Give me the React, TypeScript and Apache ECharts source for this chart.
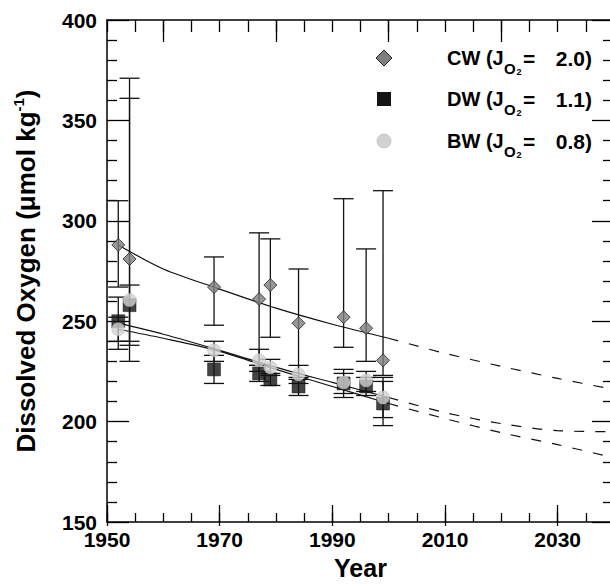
import React, { useEffect, useRef } from "react";
import * as echarts from "echarts";

// ---- data ----
const years = [1952, 1954, 1969, 1977, 1979, 1984, 1992, 1996, 1999];

const cwValues = [288, 281, 267, 261, 268, 249, 252, 246.5, 230.5];
const cwLow = [267, 230, 248, 228, 242, 222, 237, 230, 223];
const cwHigh = [310, 371, 282, 294, 291, 276, 311, 286, 315];

const dwValues = [250, 258, 226, 224, 221, 217.5, 219, 217.5, 209];
const dwLow = [236, 238, 219, 220, 218, 213, 214, 213, 198];
const dwHigh = [262, 268, 233, 228, 224, 221, 224, 222, 220];

const bwValues = [246, 260.5, 235.5, 230.5, 227, 223.5, 219.5, 220.5, 212];
const bwLow = [240, 240, 230, 225, 223, 219, 212, 215, 202];
const bwHigh = [252, 361, 240, 236, 231, 228, 226, 225, 222];

// fitted curves (solid, observed period) and projections (dashed)
const fitYears = [1952, 1960, 1970, 1980, 1990, 2000];
const cwFit = [288, 276, 266, 256.5, 248.5, 241.5];
const dwFit = [249, 243.5, 235.5, 227, 219.5, 212];
const bwFit = [246, 241.5, 235, 226, 217.5, 209];

const projYears = [2000, 2010, 2020, 2030, 2040];
const cwProj = [241.5, 234, 227.5, 221.5, 216];
const dwProj = [212, 204.5, 199, 195.5, 195];
const bwProj = [209, 201.5, 194.5, 188.5, 182];

// axes
const xLabelValues = [1950, 1970, 1990, 2010, 2030];
const xTopMajor = [1960, 1980, 2000, 2020];
const xMin = 1950;
const xMax = 2040;
const yMin = 150;
const yMax = 400;

const legendRows = [
  { name: "CW", j: "2.0" },
  { name: "DW", j: "1.1" },
  { name: "BW", j: "0.8" },
];

const FONT = "'Liberation Sans', Arial, Helvetica, sans-serif";

function errorBars(name: string, lows: number[], highs: number[]) {
  return {
    type: "custom",
    name: name + " error",
    xAxisIndex: 0,
    yAxisIndex: 0,
    z: 1,
    data: years.map((y, i) => [y, lows[i], highs[i]]),
    encode: { x: 0, y: [1, 2] },
    renderItem: (params: any, api: any) => {
      const x = api.value(0);
      const lo = api.coord([x, api.value(1)]);
      const hi = api.coord([x, api.value(2)]);
      const half = 10;
      const style = { stroke: "#111", lineWidth: 1.3, fill: "none" };
      return {
        type: "group",
        children: [
          { type: "line", shape: { x1: lo[0], y1: lo[1], x2: hi[0], y2: hi[1] }, style },
          { type: "line", shape: { x1: hi[0] - half, y1: hi[1], x2: hi[0] + half, y2: hi[1] }, style },
          { type: "line", shape: { x1: lo[0] - half, y1: lo[1], x2: lo[0] + half, y2: lo[1] }, style },
        ],
      };
    },
  };
}

function fitLine(name: string, xs: number[], ys: number[], dashed: boolean) {
  return {
    type: "line",
    name,
    xAxisIndex: 0,
    yAxisIndex: 0,
    z: 2,
    smooth: 0.3,
    showSymbol: false,
    symbol: "none",
    silent: true,
    data: xs.map((x, i) => [x, ys[i]]),
    lineStyle: { color: "#111", width: 1.2, type: dashed ? [10, 11] : "solid" },
  };
}

function scatter(name: string, vals: number[], symbol: string, size: number, itemStyle: any) {
  return {
    type: "scatter",
    name,
    xAxisIndex: 0,
    yAxisIndex: 0,
    z: 3,
    symbol,
    symbolSize: size,
    data: years.map((y, i) => [y, vals[i]]),
    itemStyle,
  };
}

const cwStyle = { color: "#7e7e7e", borderColor: "#222", borderWidth: 1 };
const dwStyle = { color: "#141414", borderColor: "#000", borderWidth: 0.5 };
const bwStyle = { color: "#d2d2d2", borderColor: "#b5b5b5", borderWidth: 0.6 };

function legendGraphics() {
  const rowY = [58, 99, 141];
  const els: any[] = [];
  const mx = 384;
  els.push({
    type: "polygon",
    shape: { points: [[mx, rowY[0] - 8], [mx + 8, rowY[0]], [mx, rowY[0] + 8], [mx - 8, rowY[0]]] },
    style: { fill: cwStyle.color, stroke: cwStyle.borderColor, lineWidth: 1 },
  });
  els.push({
    type: "rect",
    shape: { x: mx - 7, y: rowY[1] - 7, width: 14, height: 14 },
    style: { fill: dwStyle.color },
  });
  els.push({
    type: "circle",
    shape: { cx: mx, cy: rowY[2], r: 7 },
    style: { fill: bwStyle.color, stroke: bwStyle.borderColor, lineWidth: 0.6 },
  });
  legendRows.forEach((r, i) => {
    const y = rowY[i];
    const base = { fill: "#000", fontFamily: FONT, fontWeight: "bold" };
    els.push({
      type: "text",
      x: 447,
      y,
      style: { ...base, text: r.name + " (J", fontSize: 20, textAlign: "left", textVerticalAlign: "middle" },
    });
    els.push({
      type: "text",
      x: 504,
      y: y + 10,
      style: { ...base, text: "O", fontSize: 15, textAlign: "left", textVerticalAlign: "middle" },
    });
    els.push({
      type: "text",
      x: 516.5,
      y: y + 14,
      style: { ...base, text: "2", fontSize: 9, textAlign: "left", textVerticalAlign: "middle" },
    });
    els.push({
      type: "text",
      x: 523,
      y,
      style: { ...base, text: "=", fontSize: 21, textAlign: "left", textVerticalAlign: "middle" },
    });
    els.push({
      type: "text",
      x: 592,
      y,
      style: { ...base, text: r.j + ")", fontSize: 21, textAlign: "right", textVerticalAlign: "middle" },
    });
  });
  return els;
}

export default function App() {
  const ref = useRef<HTMLDivElement>(null);

  useEffect(() => {
    if (!ref.current) return;
    const chart = echarts.init(ref.current, null, { renderer: "svg" });
    const gridRect = { left: 107, top: 20, width: 507, height: 506 };
    const lineStyle = { color: "#000", width: 1.5 };
    const tickLine = { color: "#000", width: 1.3 };

    const option: any = {
      animation: false,
      backgroundColor: "#fff",
      grid: [
        { ...gridRect, containLabel: false },
        { ...gridRect, containLabel: false },
      ],
      xAxis: [
        {
          gridIndex: 0,
          type: "value",
          position: "bottom",
          min: xMin,
          max: xMax,
          interval: 5,
          axisLine: { show: true, onZero: false, lineStyle },
          axisTick: { show: true, inside: true, length: 9, lineStyle: tickLine },
          axisLabel: {
            show: true,
            customValues: xLabelValues,
            formatter: (v: number) => String(v),
            fontSize: 21,
            lineHeight: 18,
            fontWeight: "bold",
            fontFamily: FONT,
            color: "#000",
            margin: 8.5,
          },
          splitLine: { show: false },
          name: "Year",
          nameLocation: "middle",
          nameGap: 33,
          nameTextStyle: { fontSize: 25, fontWeight: "bold", fontFamily: FONT, color: "#000" },
        },
        {
          gridIndex: 0,
          type: "value",
          position: "top",
          min: xMin,
          max: xMax,
          interval: 5,
          axisLine: { show: true, onZero: false, lineStyle },
          axisTick: { show: true, inside: true, length: 12, lineStyle: tickLine },
          axisLabel: { show: false },
          splitLine: { show: false },
        },
        {
          gridIndex: 1,
          type: "value",
          position: "bottom",
          min: xMin,
          max: xMax,
          interval: 5,
          axisLine: { show: false },
          axisTick: { show: true, inside: true, length: 21, customValues: xLabelValues, lineStyle: tickLine },
          axisLabel: { show: false },
          splitLine: { show: false },
        },
        {
          gridIndex: 1,
          type: "value",
          position: "top",
          min: xMin,
          max: xMax,
          interval: 5,
          axisLine: { show: false },
          axisTick: { show: true, inside: true, length: 22, customValues: xTopMajor, lineStyle: tickLine },
          axisLabel: { show: false },
          splitLine: { show: false },
        },
      ],
      yAxis: [
        {
          gridIndex: 0,
          type: "value",
          position: "left",
          min: yMin,
          max: yMax,
          interval: 50,
          axisLine: { show: true, onZero: false, lineStyle },
          axisTick: { show: true, inside: true, length: 22, lineStyle: tickLine },
          minorTick: { show: true, splitNumber: 5, length: 10, lineStyle: tickLine },
          axisLabel: {
            fontSize: 21,
            lineHeight: 16,
            fontWeight: "bold",
            fontFamily: FONT,
            color: "#000",
            margin: 10,
          },
          splitLine: { show: false },
          minorSplitLine: { show: false },
          name: "{a|Dissolved Oxygen (\u03bcmol kg}{s|-1}{a|)}",
          nameLocation: "middle",
          nameGap: 66,
          nameRotate: 90,
          nameTextStyle: {
            fontSize: 26,
            fontWeight: "bold",
            fontFamily: FONT,
            color: "#000",
            rich: {
              a: { fontSize: 26, fontWeight: "bold", fontFamily: FONT, color: "#000", lineHeight: 30 },
              s: {
                fontSize: 15,
                fontWeight: "bold",
                fontFamily: FONT,
                color: "#000",
                lineHeight: 16,
                verticalAlign: "top",
              },
            },
          },
        },
        {
          gridIndex: 0,
          type: "value",
          position: "right",
          min: yMin,
          max: yMax,
          interval: 50,
          axisLine: { show: true, onZero: false, lineStyle },
          axisTick: { show: true, inside: true, length: 22, lineStyle: tickLine },
          minorTick: { show: true, splitNumber: 5, length: 11, lineStyle: tickLine },
          axisLabel: { show: false },
          splitLine: { show: false },
        },
        {
          gridIndex: 1,
          type: "value",
          show: false,
          min: yMin,
          max: yMax,
        },
      ],
      series: [
        errorBars("CW", cwLow, cwHigh),
        errorBars("DW", dwLow, dwHigh),
        errorBars("BW", bwLow, bwHigh),
        fitLine("CW fit", fitYears, cwFit, false),
        fitLine("DW fit", fitYears, dwFit, false),
        fitLine("BW fit", fitYears, bwFit, false),
        fitLine("CW projection", projYears, cwProj, true),
        fitLine("DW projection", projYears, dwProj, true),
        fitLine("BW projection", projYears, bwProj, true),
        scatter("CW", cwValues, "diamond", 13, cwStyle),
        scatter("DW", dwValues, "rect", 13, dwStyle),
        scatter("BW", bwValues, "circle", 13, bwStyle),
      ],
      graphic: legendGraphics(),
    };

    chart.setOption(option);
    return () => {
      chart.dispose();
    };
  }, []);

  return (
    <div
      style={{
        position: "fixed",
        left: 0,
        top: 0,
        width: 610,
        height: 585,
        overflow: "hidden",
        background: "#fff",
      }}
    >
      <div ref={ref} style={{ width: 640, height: 585 }} />
    </div>
  );
}
